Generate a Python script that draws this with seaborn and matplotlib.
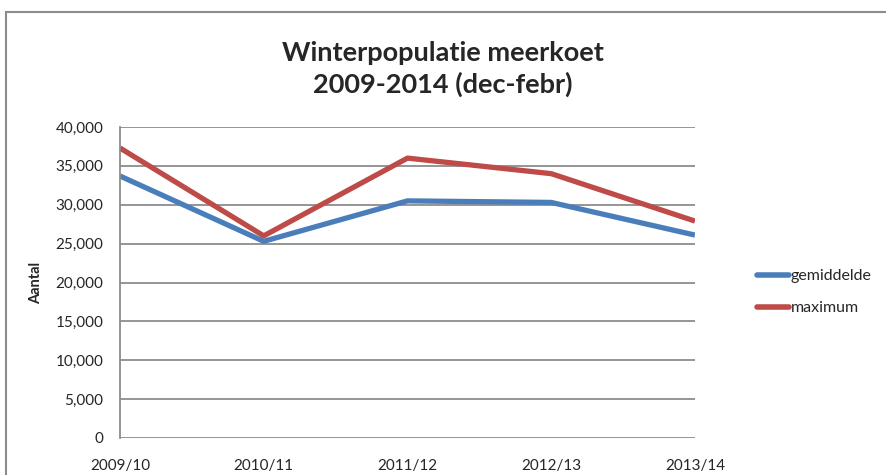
import matplotlib
matplotlib.use("Agg")
import matplotlib.pyplot as plt
from matplotlib.patches import Rectangle
from matplotlib.ticker import FuncFormatter, MultipleLocator
import pandas as pd
import seaborn as sns

seasons = ["2009/10", "2010/11", "2011/12", "2012/13", "2013/14"]
gemiddelde = [33700, 25300, 30500, 30300, 26100]
maximum = [37300, 26000, 36000, 34000, 27900]
series_names = ["gemiddelde", "maximum"]
colors = ["#4A7EBB", "#BE4B48"]

df = pd.DataFrame({
    "seizoen": seasons * 2,
    "x": list(range(len(seasons))) * 2,
    "aantal": gemiddelde + maximum,
    "reeks": [series_names[0]] * len(seasons) + [series_names[1]] * len(seasons),
})

sns.set_style("white")
plt.rcParams["font.family"] = ["Lato", "DejaVu Sans"]

fig = plt.figure(figsize=(8.86, 4.75), dpi=100)
ax = fig.add_axes([0.1354, 0.0779, 0.6490, 0.6547])

sns.lineplot(data=df, x="x", y="aantal", hue="reeks", palette=colors,
             linewidth=3.8, ax=ax, legend=False, solid_capstyle="butt")

ax.set_xlim(0, len(seasons) - 1)
ax.set_ylim(0, 40000)
ax.yaxis.set_major_locator(MultipleLocator(5000))
ax.yaxis.set_major_formatter(FuncFormatter(lambda v, p: f"{int(v):,}"))
ax.set_xticks(range(len(seasons)))
ax.set_xticklabels(seasons)
ax.grid(axis="y", color="#8c8c8c", linewidth=1.3)
ax.set_axisbelow(True)
for s in ["top", "right", "bottom"]:
    ax.spines[s].set_visible(False)
ax.spines["left"].set_color("#8c8c8c")
ax.spines["left"].set_linewidth(1.3)
ax.tick_params(axis="y", length=0, pad=12, labelsize=11)
ax.tick_params(axis="x", length=0, pad=15, labelsize=11)
ax.set_xlabel("")
ax.set_ylabel("Aantal", fontsize=10.5, fontweight="bold", labelpad=9)

fig.text(0.5, 0.855, "Winterpopulatie meerkoet\n2009-2014 (dec-febr)",
         ha="center", va="center", fontsize=19.5, fontweight="bold",
         linespacing=1.3)

handles = [plt.Line2D([], [], color=c, linewidth=4, solid_capstyle="round") for c in colors]
fig.legend(handles, series_names, loc="center left",
           bbox_to_anchor=(0.838, 0.385), frameon=False, fontsize=11.5,
           handlelength=2.0, handletextpad=0.1, labelspacing=1.1)

fig.patches.append(Rectangle((6 / 886, -0.1), 1.2, 1 - 12 / 475 + 0.1,
                             transform=fig.transFigure, fill=False,
                             edgecolor="#8c8c8c", linewidth=1.5))

fig.savefig("out.png", dpi=100, facecolor="white")
